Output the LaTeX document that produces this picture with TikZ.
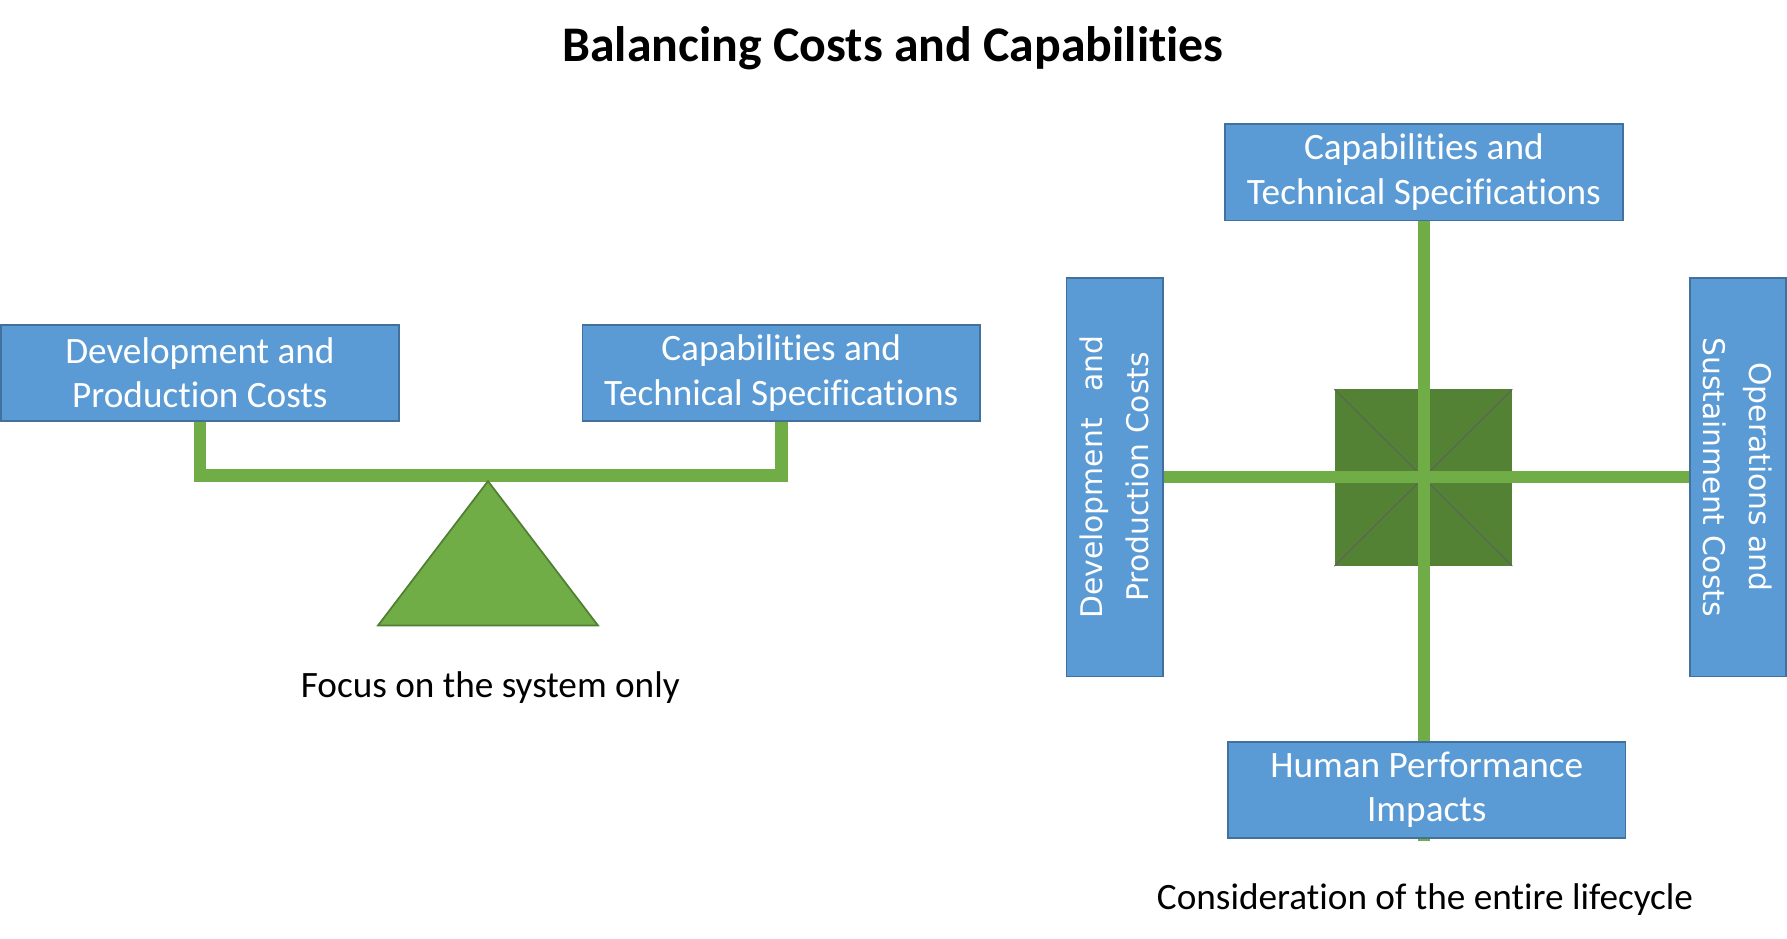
\documentclass[tikz,border=0pt]{standalone}
\usepackage{fontspec}
\setmainfont{Carlito}[Ligatures={NoCommon,NoRare}]
\newfontfamily\vfont{DejaVu Sans}
\usetikzlibrary{backgrounds}
\definecolor{boxblue}{HTML}{5B9BD5}
\definecolor{bordblue}{HTML}{41719C}
\definecolor{beamgreen}{HTML}{70AD47}
\definecolor{darkgreen}{HTML}{548235}
\definecolor{trigreen}{HTML}{507E32}
\definecolor{diagline}{HTML}{5F5F5F}
\begin{document}
\begin{tikzpicture}[x=1pt,y=1pt,
  box/.style={draw=bordblue, fill=boxblue, line width=1.5pt, text=white, align=center,
    inner sep=0pt, minimum width=347pt, minimum height=84pt,
    font=\fontsize{32.5}{39}\selectfont},
  vbox/.style={box, minimum width=348pt, minimum height=84pt,
    font=\vfont\fontsize{26}{40}\selectfont},
  beam/.style={draw=beamgreen, line width=11pt},
  caption/.style={font=\fontsize{32.5}{39}\selectfont, text=black, inner sep=0pt},
  titlestyle/.style={font=\bfseries\fontsize{43.5}{50}\selectfont, text=black, inner sep=0pt}]
\useasboundingbox (0,0) rectangle (1560,-819.7);
\begin{scope}[on background layer]
  \fill[white] (0,0) rectangle (1560,-819.7);
\end{scope}

% title
\node[titlestyle] (title) at (779.5,-42) {Balancing Costs and Capabilities};

% left: balance
\node[box] (L1) at (174.5,-325.5) {Development and\\Production Costs};
\node[box] (L2) at (682,-325.5) {Capabilities and\\Technical Specifications};
\coordinate (pivot) at (428,-415);
\begin{scope}[on background layer]
  \draw[beam] (L1.south) |- (pivot) -| (L2.south);
\end{scope}
\draw[fill=beamgreen, draw=trigreen, line width=1.5pt] (426,-420) -- (522,-546) -- (330,-546) -- cycle;
\node[caption] (cap1) at (428,-600) {Focus on the system only};

% right: lifecycle
\node[box] (TC) at (1243,-150.5) {Capabilities and\\Technical Specifications};
\node[box] (HP) at (1245.5,-689.5) {Human Performance\\Impacts};
\node[vbox, rotate=90] (DL) at (973,-416.5) {Development\hspace{0.9em}and\\Production Costs};
\node[vbox, rotate=-90] (DR) at (1517,-416.5) {Operations and\\Sustainment Costs};
\begin{scope}[on background layer]
  \node[fill=darkgreen, inner sep=0pt, minimum width=155pt, minimum height=154pt] (SQ) at (1242.5,-417) {};
  \draw[diagline, line width=0.8pt] (SQ.north west) -- (SQ.south east);
  \draw[diagline, line width=0.8pt] (SQ.north east) -- (SQ.south west);
  \draw[beam] (TC.south) -- ([yshift=-2pt]TC.south |- HP.south);
  \draw[beam] (DL.south) -- (DR.south);
\end{scope}
\node[caption] (cap2) at (1244,-785) {Consideration of the entire lifecycle};
\end{tikzpicture}
\end{document}
